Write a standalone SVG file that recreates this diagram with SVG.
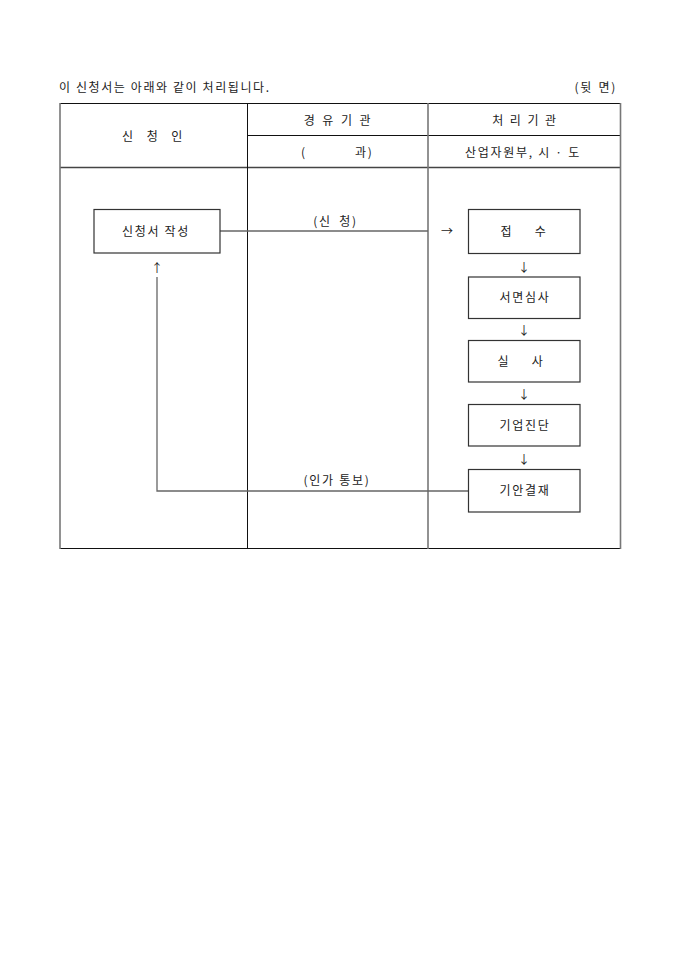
<svg xmlns="http://www.w3.org/2000/svg" width="680" height="962" viewBox="0 0 680 962">
<style>
text{font-family:"Noto Sans CJK KR","Noto Sans",sans-serif;font-size:12px;fill:#222;letter-spacing:1.7px}
.c{text-anchor:middle}
.box{fill:#fff;stroke:#333;stroke-width:1.2}
.tb{stroke:#111;stroke-width:1;fill:none}
.tg{stroke:#777;stroke-width:1.6;fill:none}
.con{stroke:#666;stroke-width:1.3;fill:none}
.arr{font-family:"Noto Sans CJK KR",sans-serif;font-size:12px;fill:#222;letter-spacing:0}
</style>
<rect width="680" height="962" fill="#fff"/>
<g id="title">
<text x="59" y="92" style="letter-spacing:1.6px">이 신청서는 아래와 같이 처리됩니다.</text>
<text x="617" y="92" text-anchor="end" word-spacing="1">(뒷 면)</text>
</g>
<g id="table">
<line class="tb" x1="60" y1="103.5" x2="621" y2="103.5"/>
<line class="tb" x1="247" y1="135.5" x2="621" y2="135.5"/>
<line class="tb" x1="60" y1="167.5" x2="621" y2="167.5" style="stroke:#444;stroke-width:1.4"/>
<line class="tb" x1="60" y1="548.5" x2="621" y2="548.5"/>
<line class="tg" x1="60" y1="103" x2="60" y2="549"/>
<line class="tg" x1="620.5" y1="103" x2="620.5" y2="549"/>
<line class="tb" x1="247.5" y1="103" x2="247.5" y2="549"/>
<line class="tg" x1="428" y1="103" x2="428" y2="549"/>
<text class="c" x="153" y="141" word-spacing="7.5">신 청 인</text>
<text class="c" x="338" y="125" word-spacing="1.5">경 유 기 관</text>
<text class="c" x="525" y="125" word-spacing="0.5">처 리 기 관</text>
<text x="301" y="157">(</text>
<text x="355" y="157">과)</text>
<text class="c" x="523" y="157">산업자원부, 시 · 도</text>
</g>
<g id="connectors">
<line class="con" x1="220" y1="231" x2="428" y2="231"/>
<text class="c" x="335.5" y="226" word-spacing="3">(신 청)</text>
<text class="arr c" x="447" y="235.5">→</text>
<polyline class="con" points="468,491 157,491 157,277"/>
<text class="c" x="337" y="485">(인가 통보)</text>
<text class="arr c" x="157" y="273">↑</text>
<text class="arr c" x="524" y="272">↓</text>
<text class="arr c" x="524" y="335">↓</text>
<text class="arr c" x="524" y="399">↓</text>
<text class="arr c" x="524" y="464">↓</text>
</g>
<g id="n-apply">
<rect class="box" x="94" y="209.5" width="126" height="43.5"/>
<text class="c" x="156" y="236">신청서 작성</text>
</g>
<g id="n-receive">
<rect class="box" x="468.5" y="209.5" width="111.5" height="44"/>
<text class="c" x="524" y="236" word-spacing="17">접 수</text>
</g>
<g id="n-doc">
<rect class="box" x="468.5" y="277" width="111.5" height="41.5"/>
<text class="c" x="525" y="302">서면심사</text>
</g>
<g id="n-site">
<rect class="box" x="468.5" y="340.5" width="111.5" height="41.5"/>
<text class="c" x="521" y="366" word-spacing="17">실 사</text>
</g>
<g id="n-diag">
<rect class="box" x="468.5" y="404.5" width="111.5" height="41.5"/>
<text class="c" x="525" y="430">기업진단</text>
</g>
<g id="n-approve">
<rect class="box" x="468.5" y="469.5" width="111.5" height="42.5"/>
<text class="c" x="525" y="495">기안결재</text>
</g>
</svg>
